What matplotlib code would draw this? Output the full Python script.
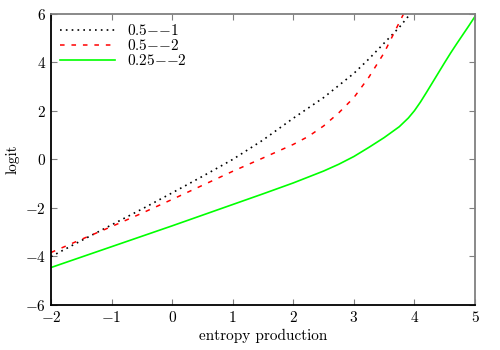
import matplotlib
matplotlib.use("Agg")
import matplotlib.pyplot as plt

plt.rcParams["font.family"] = ["cmr10", "DejaVu Serif"]
plt.rcParams["mathtext.fontset"] = "cm"
plt.rcParams["axes.formatter.use_mathtext"] = True
plt.rcParams["font.size"] = 11

# curve values
x_a = [-2, -1.5, -1, -0.5, 0, 0.5, 1, 1.5, 2, 2.5, 3, 3.25, 3.5, 3.75, 3.93]
y_a = [-4.01, -3.35, -2.70, -2.05, -1.38, -0.70, 0.0, 0.80, 1.70, 2.55, 3.55, 4.15, 4.80, 5.45, 6.0]

x_b = [-2, -1.5, -1, -0.5, 0, 0.5, 1, 1.5, 2, 2.25, 2.5, 2.75, 3, 3.25, 3.5, 3.65, 3.82]
y_b = [-3.84, -3.30, -2.77, -2.22, -1.65, -1.07, -0.49, 0.06, 0.62, 0.95, 1.38, 1.92, 2.55, 3.40, 4.40, 5.15, 6.0]

x_c = [-2, -1.5, -1, -0.5, 0, 0.5, 1, 1.5, 2, 2.5, 2.75, 3, 3.25, 3.5, 3.75,
       3.9, 4.0, 4.1, 4.2, 4.3, 4.4, 4.5, 4.6, 4.7, 4.8, 4.9, 5.0]
y_c = [-4.46, -4.03, -3.60, -3.17, -2.74, -2.30, -1.86, -1.42, -0.97, -0.48, -0.20, 0.12, 0.50, 0.90, 1.35,
       1.71, 2.01, 2.37, 2.77, 3.18, 3.59, 4.00, 4.40, 4.78, 5.15, 5.52, 5.90]

labels = [r"$0.5{-}{-}1$", r"$0.5{-}{-}2$", r"$0.25{-}{-}2$"]

fig = plt.figure(figsize=(5, 3.5), dpi=100)
ax = fig.add_axes([0.102, 0.129, 0.848, 0.831])

ax.plot(x_a, y_a, color="black", lw=1.2, ls=(0, (1, 2.5)), label=labels[0])
ax.plot(x_b, y_b, color="red", lw=1.1, ls=(0, (3, 4.5)), label=labels[1])
ax.plot(x_c, y_c, color="#00ff00", lw=1.2, label=labels[2])

ax.set_xlim(-2, 5)
ax.set_ylim(-6, 6)
ax.set_xticks(range(-2, 6))
ax.set_yticks(range(-6, 7, 2))
ax.set_xlabel("entropy production", labelpad=3)
ax.set_ylabel("logit")

for s in ["left", "bottom"]:
    ax.spines[s].set_color("black")
    ax.spines[s].set_linewidth(1.3)
for s in ["top", "right"]:
    ax.spines[s].set_color("#808080")
    ax.spines[s].set_linewidth(1.3)
ax.tick_params(direction="in", top=True, right=True, length=4,
               width=0.8, color="#808080", labelsize=11)

ax.legend(loc="upper left", frameon=False, handlelength=3.6,
          handletextpad=0.8, labelspacing=0.0, borderaxespad=0.2,
          fontsize=11)

fig.savefig("out.png", dpi=100)
